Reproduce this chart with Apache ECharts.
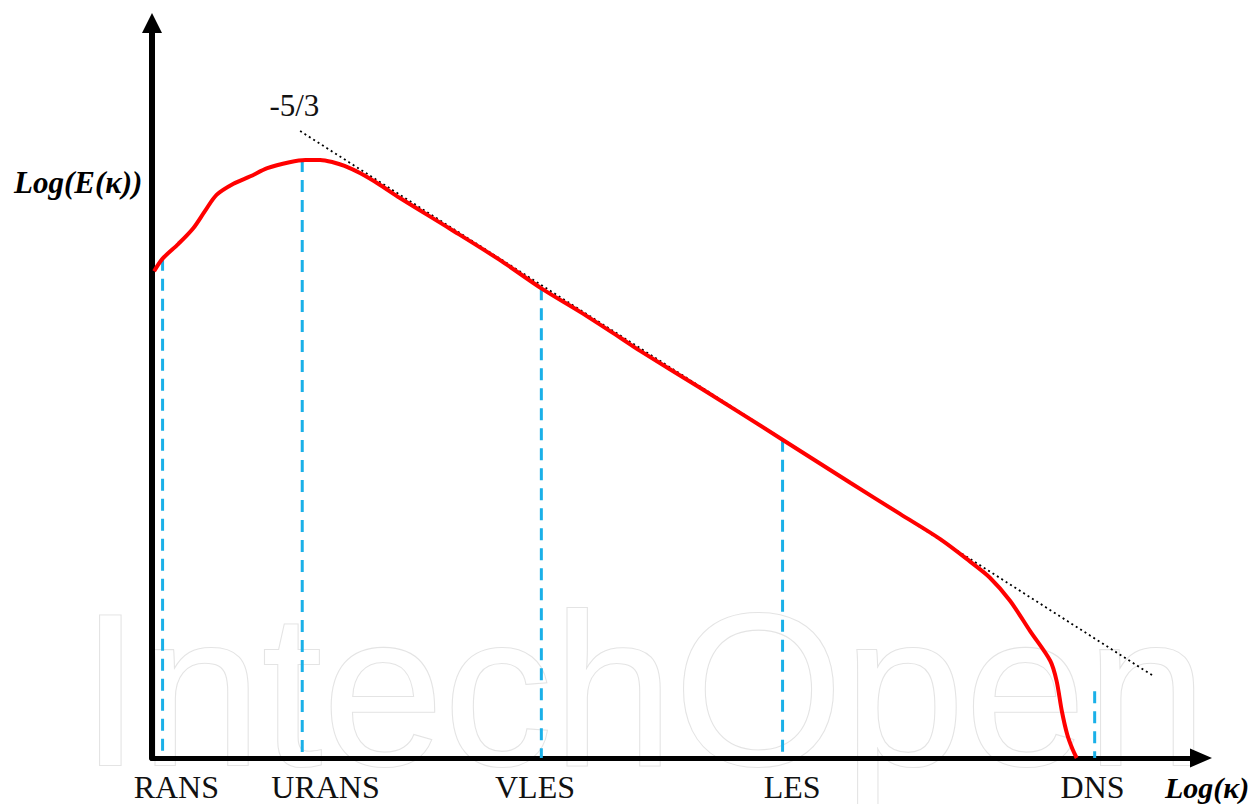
<!DOCTYPE html>
<html>
<head>
<meta charset="utf-8">
<style>html,body{margin:0;padding:0;background:#fff;}#c{width:1260px;height:804px;}</style>
<script src="https://cdn.jsdelivr.net/npm/echarts@6/dist/echarts.min.js"></script>
</head>
<body>
<div id="c"></div>
<script>
// log wavenumber (arbitrary units) and log energy for the spectrum curve
const curveK = [0.02,0.10,0.25,0.39,0.50,0.61,0.77,0.93,1.09,1.30,1.45,1.59,1.71,1.82,1.97,2.16,2.34,2.82,3.29,3.68,4.05,4.42,4.61,5.18,5.96,6.60,7.07,7.45,7.73,7.92,8.11,8.30,8.49,8.55,8.60,8.65,8.70,8.74];
const curveE = [6.56,6.73,6.93,7.14,7.37,7.59,7.74,7.84,7.95,8.03,8.06,8.06,8.03,7.98,7.88,7.72,7.55,7.13,6.71,6.33,6.01,5.67,5.49,4.99,4.29,3.71,3.29,2.95,2.65,2.43,2.12,1.71,1.31,1.04,0.63,0.32,0.12,0.00];
// modelling regimes: cutoff position, curve level at cutoff, label position
const regimes = ['RANS','URANS','VLES','LES','DNS'];
const regimeK = [0.10,1.42,3.68,5.96,8.91];
const regimeTop = [6.73,8.06,6.33,4.29,0.90];
const regimeLabelK = [0.23,1.64,3.62,6.05,8.89];
// -5/3 reference slope
const slopeK = [1.40,9.46];
const slopeE = [8.45,1.11];
const slopeLabel = '-5/3';
const slopeLabelK = 1.11, slopeLabelE = 8.79;
const xName = 'Log(κ)';
const yName = 'Log(E(κ))';
const watermark = 'IntechOpen';

const xMax = 9.915, yMax = 9.906;
const chart = echarts.init(document.getElementById('c'), null, {renderer:'svg'});
const series = [];
regimes.forEach((r,i)=>{
  series.push({type:'line', name:r, data:[[regimeK[i],regimeTop[i]],[regimeK[i],0]], symbol:'none', silent:true,
    lineStyle:{color:'#1ab0e8', width:3, type:[12,8]}, z:3});
});
series.push({type:'line', name:'slope', data:slopeK.map((k,i)=>[k,slopeE[i]]), symbol:'none',
  lineStyle:{color:'#000', width:1.8, type:[2,3.2]}, z:4});
series.push({type:'line', name:'E', data:curveK.map((k,i)=>[k,curveE[i]]), symbol:'none', smooth:0.3,
  lineStyle:{color:'#ff0000', width:4}, z:5});
const axisCommon = {splitLine:{show:false}, axisTick:{show:false}, axisLabel:{show:false}};
chart.setOption({
  animation:false,
  grid:{left:152, right:59, top:23, bottom:46},
  xAxis:Object.assign({type:'value', min:0, max:xMax,
    axisLine:{show:true, onZero:false, symbol:['none','triangle'], symbolSize:[19,22], lineStyle:{color:'#000', width:5}}}, axisCommon),
  yAxis:Object.assign({type:'value', min:0, max:yMax,
    axisLine:{show:true, onZero:false, symbol:['none','triangle'], symbolSize:[20,20], lineStyle:{color:'#000', width:6}}}, axisCommon),
  series: series
});
const serif = '"Liberation Serif", "DejaVu Serif", serif';
const g = [];
g.push({type:'text', x:80, y:689, z:-10, silent:true,
  style:{text:watermark, font:'218px "Liberation Sans"', fill:'#fff', stroke:'#e4e4e4', lineWidth:2.2, align:'left', verticalAlign:'middle'}});
regimes.forEach((r,i)=>{
  const p = chart.convertToPixel({gridIndex:0}, [regimeLabelK[i],0]);
  g.push({type:'text', x:p[0], y:787, style:{text:r, font:'32px '+serif, fill:'#111', align:'center', verticalAlign:'middle'}});
});
const sp = chart.convertToPixel({gridIndex:0}, [slopeLabelK, slopeLabelE]);
g.push({type:'text', x:sp[0], y:sp[1], style:{text:slopeLabel, font:'31px '+serif, fill:'#111', align:'left', verticalAlign:'middle'}});
g.push({type:'text', x:14, y:182, style:{text:yName, font:'italic bold 31px '+serif, fill:'#000', align:'left', verticalAlign:'middle'}});
g.push({type:'text', x:1165, y:787, style:{text:xName, font:'italic bold 30px '+serif, fill:'#000', align:'left', verticalAlign:'middle'}});
chart.setOption({graphic:g});
</script>
</body>
</html>
